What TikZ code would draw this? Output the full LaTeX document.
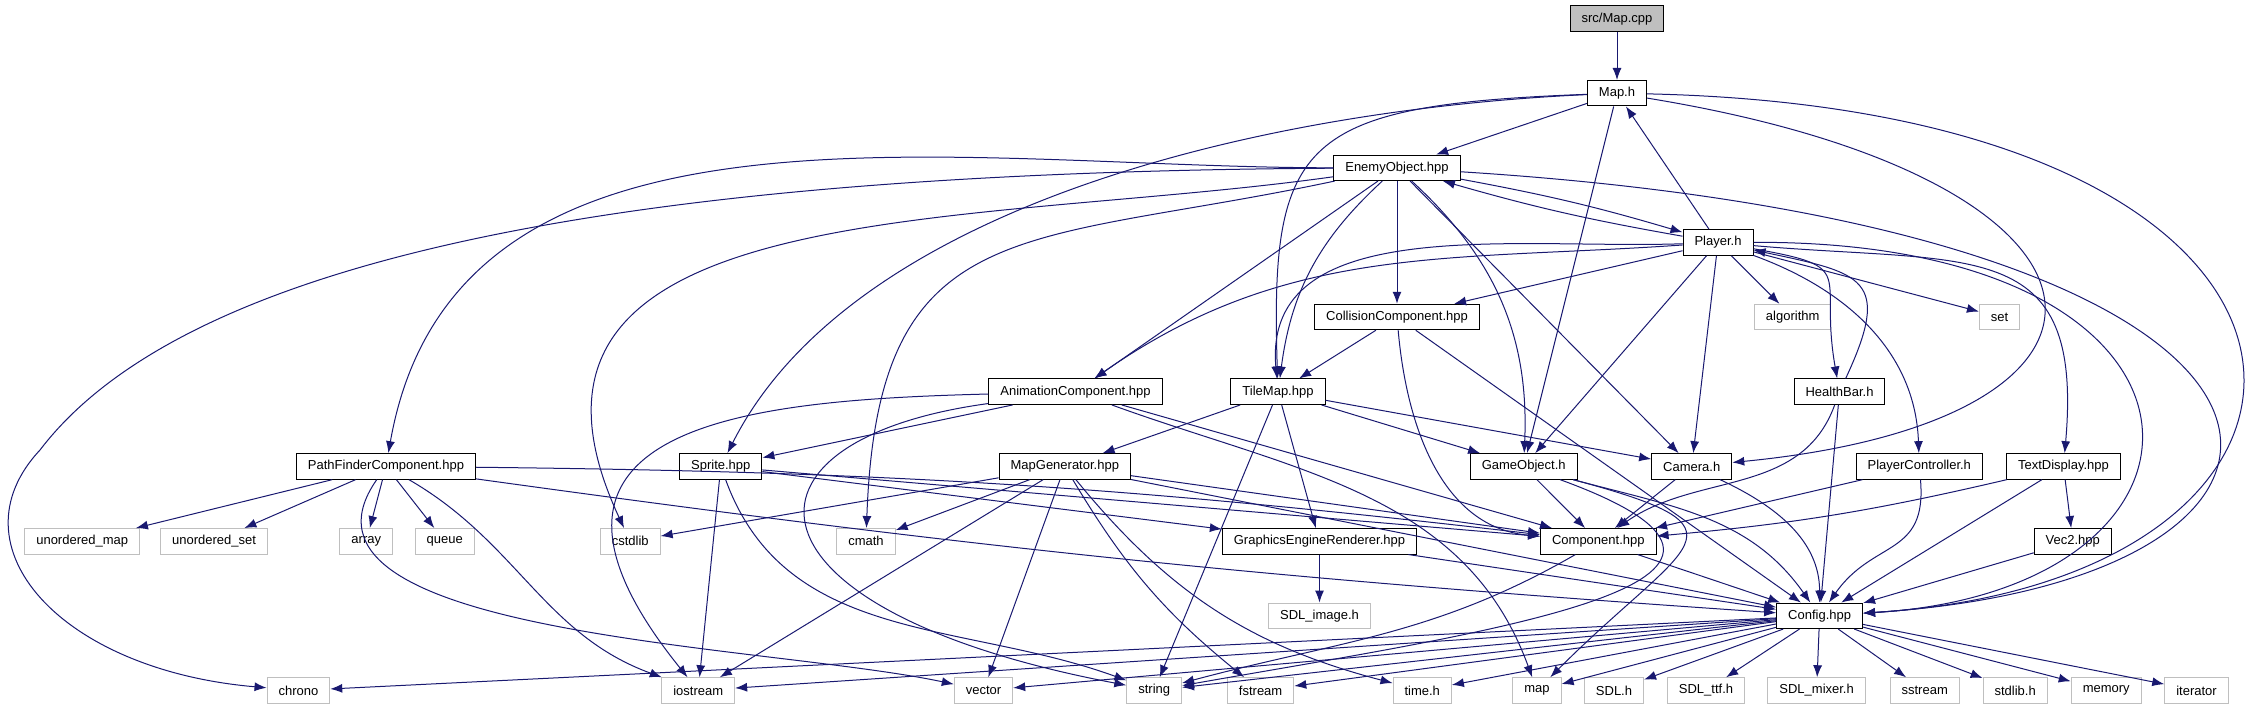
\documentclass[tikz,border=0pt]{standalone}
\usepackage{fontspec}
\setmainfont{Liberation Sans}
\usepackage{xcolor}
\usepackage{tikz}
\usetikzlibrary{positioning,arrows.meta}
\definecolor{edgeblue}{HTML}{191970}
\definecolor{boxgray}{HTML}{BFBFBF}

\begin{document}
\begin{tikzpicture}[x=0.5pt,y=0.5pt,node distance=37.25pt,
  font=\fontsize{6.5}{7.8}\selectfont,
  hdr/.style={draw=black,line width=0.5pt,fill=white,minimum height=12.75pt,inner xsep=5.75pt,inner ysep=0pt},
  sys/.style={hdr,draw=boxgray},
  srcbox/.style={hdr,fill=boxgray},
  dep/.style={edgeblue,line width=0.5pt},
  every edge/.append style={dep},
  >={Latex[length=6pt,width=4.5pt]}]
  \useasboundingbox (0,0) rectangle (2265,-709);
  \node[srcbox] (MapCpp) at (1617,-18.7) {src/Map.cpp};
  \node[hdr] (MapH) [below of=MapCpp] {Map.h};
  \node[hdr] (Enemy) at (1397,-167.8) {EnemyObject.hpp};
  \node[hdr] (Player) at (1718,-242.5) {Player.h};
  \node[hdr] (Collision) at (1397,-317) {CollisionComponent.hpp};
  \node[sys] (Algo) at (1792.7,-317) {algorithm};
  \node[sys] (Set) at (1999.6,-317) {set};
  \node[hdr] (Anim) at (1075.5,-391.7) {AnimationComponent.hpp};
  \node[hdr] (TileMap) at (1278,-391.7) {TileMap.hpp};
  \node[hdr] (Health) at (1839.5,-391.7) {HealthBar.h};
  \node[hdr] (PathFind) at (386,-466.4) {PathFinderComponent.hpp};
  \node[hdr] (Sprite) at (720.8,-466.4) {Sprite.hpp};
  \node[hdr] (MapGen) at (1064.8,-466.4) {MapGenerator.hpp};
  \node[hdr] (GameObj) at (1523.7,-466.4) {GameObject.h};
  \node[hdr] (Camera) at (1691.7,-466.4) {Camera.h};
  \node[hdr] (PlayerCtrl) at (1919.3,-466.4) {PlayerController.h};
  \node[hdr] (TextDisp) at (2063.5,-466.4) {TextDisplay.hpp};
  \node[sys] (UMap) at (82.2,-541.3) {unordered\_map};
  \node[sys] (USet) at (214,-541.3) {unordered\_set};
  \node[sys] (Array) at (366.3,-541.3) {array};
  \node[sys] (Queue) at (444.7,-541.3) {queue};
  \node[sys] (CStdlib) at (630.2,-541.3) {cstdlib};
  \node[sys] (CMath) at (866,-541.3) {cmath};
  \node[hdr] (GER) at (1319.5,-541.3) {GraphicsEngineRenderer.hpp};
  \node[hdr] (Component) at (1598.3,-541.3) {Component.hpp};
  \node[hdr] (Vec2) at (2072.8,-541.3) {Vec2.hpp};
  \node[sys] (SDLImage) [below of=GER] {SDL\_image.h};
  \node[hdr] (Config) at (1819.6,-615.8) {Config.hpp};
  \node[sys] (Chrono) at (298.4,-690.5) {chrono};
  \node[sys] (IOStream) at (698.2,-690.5) {iostream};
  \node[sys] (Vector) at (983.5,-690.5) {vector};
  \node[sys] (String) at (1154.2,-690.5) {string};
  \node[sys] (FStream) at (1260.6,-690.5) {fstream};
  \node[sys] (TimeH) at (1422.2,-690.5) {time.h};
  \node[sys] (Map) at (1537,-690.5) {map};
  \node[sys] (SDLH) at (1614,-690.5) {SDL.h};
  \node[sys] (SDLTtf) at (1706,-690.5) {SDL\_ttf.h};
  \node[sys] (SDLMixer) at (1816.6,-690.5) {SDL\_mixer.h};
  \node[sys] (SStream) at (1924.7,-690.5) {sstream};
  \node[sys] (StdlibH) at (2015.2,-690.5) {stdlib.h};
  \node[sys] (Memory) at (2106.2,-690.5) {memory};
  \node[sys] (Iterator) at (2196.5,-690.5) {iterator};
  \path[->]
   (MapCpp) edge (MapH)
   (MapH) edge (Enemy)
   (MapH) edge (GameObj)
   (Enemy) edge[bend left=3] (Player)
   (Enemy) edge[out=180,in=80] (PathFind)
   (Enemy) edge[out=188,in=115,looseness=1.2] (CStdlib)
   (Enemy) edge[out=192,in=88,looseness=1.4] (CMath)
   (Enemy) edge (Anim)
   (Enemy) edge[bend right=20] (TileMap)
   (Enemy) edge (Collision)
   (Enemy) edge[bend left=25] (GameObj)
   (Enemy) edge (Camera)
   (Player) edge (MapH)
   (Player) edge[bend left=3] (Enemy)
   (Player) edge (Algo)
   (Player) edge (Set)
   (Player) edge (Collision)
   (Player) edge[out=182,in=95] (TileMap)
   (Player) edge[out=184,in=35] (Anim)
   (Player) edge (GameObj)
   (Player) edge (Camera)
   (Player) edge[out=-10,in=100,looseness=1.8] (Health)
   (Health) edge[out=65,in=-12,looseness=1.8] (Player)
   (Player) edge[out=-20,in=92] (PlayerCtrl)
   (Player) edge[out=-5,in=85,looseness=1.5] (TextDisp)
   (Collision) edge (TileMap)
   (Collision) edge[out=-85,in=175] (Component)
   (Collision) edge (Config)
   (Anim) edge (Sprite)
   (Anim) edge[out=-20,in=110] (Map)
   (Anim) edge (Component)
   (TileMap) edge (MapGen)
   (TileMap) edge (String)
   (TileMap) edge (GER)
   (TileMap) edge (GameObj)
   (TileMap) edge (Camera)
   (Health) edge[out=250,in=35] (Component)
   (Health) edge (Config)
   (PathFind) edge (UMap)
   (PathFind) edge (USet)
   (PathFind) edge (Array)
   (PathFind) edge (Queue)
   (PathFind) edge[out=-30,in=160] (IOStream)
   (PathFind) edge[out=235,in=168,looseness=0.8] (Vector)
   (PathFind) edge[bend left=3] (Component)
   (PathFind) edge[bend right=2] (Config)
   (Sprite) edge (IOStream)
   (Sprite) edge[out=-70,in=160] (String)
   (Sprite) edge (GER)
   (Sprite) edge (Component)
   (MapGen) edge (CStdlib)
   (MapGen) edge (CMath)
   (MapGen) edge (IOStream)
   (MapGen) edge (Vector)
   (MapGen) edge[bend right=10] (FStream)
   (MapGen) edge[bend right=18] (TimeH)
   (MapGen) edge (Component)
   (MapGen) edge (Config)
   (GameObj) edge (Component)
   (GameObj) edge[out=-15,in=125] (Config)
   (GameObj) edge[out=-15,in=45,looseness=2.5] (Map)
   (GameObj) edge[out=-20,in=10,looseness=1.8] (String)
   (Camera) edge (Component)
   (Camera) edge[out=-25,in=90] (Config)
   (PlayerCtrl) edge (Component)
   (PlayerCtrl) edge[out=-85,in=55,looseness=1.3] (Config)
   (TextDisp) edge[bend left=4] (Component)
   (TextDisp) edge (Vec2)
   (TextDisp) edge (Config)
   (Vec2) edge (Config)
   (GER) edge (SDLImage)
   (GER) edge (Config)
   (Component) edge[out=210,in=15] (String)
   (Component) edge (Config)
   (Config) edge (Chrono)
   (Config) edge (IOStream)
   (Config) edge (Vector)
   (Config) edge (String)
   (Config) edge (FStream)
   (Config) edge (TimeH)
   (Config) edge (Map)
   (Config) edge (SDLH)
   (Config) edge (SDLTtf)
   (Config) edge (SDLMixer)
   (Config) edge (SStream)
   (Config) edge (StdlibH)
   (Config) edge (Memory)
   (Config) edge (Iterator);
  % long routed includes
  \draw[->,dep] (MapH) .. controls (1250,-110) and (850,-210) .. (Sprite);
  \draw[->,dep] (MapH) .. controls (1300,-105) and (1270,-140) .. (TileMap);
  \draw[->,dep] (MapH) .. controls (2150,-180) and (2170,-420) .. (Camera);
  \draw[->,dep] (MapH) .. controls (2400,-110) and (2400,-580) .. (Config);
  \draw[->,dep] (Enemy) .. controls (2390,-230) and (2390,-580) .. (Config);
  \draw[->,dep] (Player) .. controls (2250,-240) and (2250,-590) .. (Config);
  \draw[->,dep] (Enemy) .. controls (700,-172) and (200,-240) .. (40,-450)
    .. controls (-50,-546) and (60,-670) .. (Chrono);
  \draw[->,dep] (Anim) .. controls (760,-400) and (480,-420) .. (IOStream);
  \draw[->,dep] (Anim) .. controls (720,-440) and (730,-610) .. (String);
\end{tikzpicture}
\end{document}
